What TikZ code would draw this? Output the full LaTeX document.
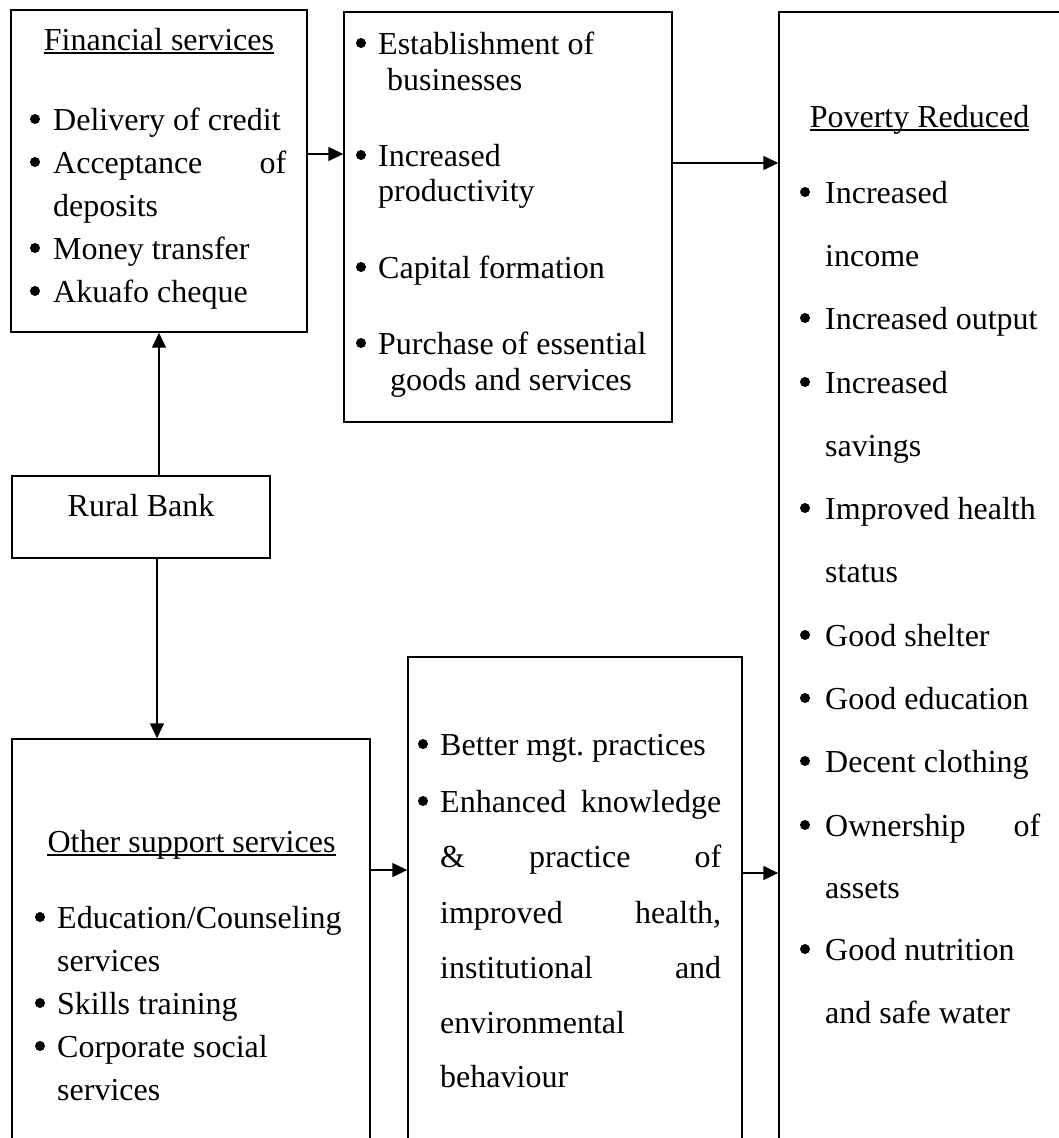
\documentclass[tikz,border=0pt]{standalone}
\usepackage{fontspec}
\setmainfont{Liberation Serif}
\usetikzlibrary{arrows.meta}
\newcommand\fs{\fontsize{32pt}{38pt}\selectfont\frenchspacing}
\tikzset{
  box/.style={draw, line width=1.4pt, inner sep=0pt},
  arr/.style={line width=1.4pt, -{Triangle[length=15pt,width=14pt]}},
  txt/.style={anchor=base west, inner sep=0pt, font=\fs},
  ttl/.style={anchor=base, inner sep=0pt, font=\fs},
  uline/.style={line width=1.4pt},
  bul/.style={fill=black}
}
\newcommand\bulat[2]{\fill[bul] (#1,#2-11) circle (5pt);}
\begin{document}
\begin{tikzpicture}[x=1pt,y=-1pt]
\useasboundingbox (0,0) rectangle (1059,1138);
\clip (0,0) rectangle (1059,1138);
% boxes
\node[box, minimum width=296pt, minimum height=322pt] (fin) at (159,171) {};
\node[box, minimum width=328pt, minimum height=410pt] (eff) at (508,217) {};
\node[box, minimum width=321pt, minimum height=1188pt] (pov) at (939.5,606) {};
\node[box, minimum width=258pt, minimum height=82pt] (bank) at (141,517) {};
\node[box, minimum width=358pt, minimum height=461pt] (oth) at (191,969.5) {};
\node[box, minimum width=334pt, minimum height=543pt] (beh) at (575,928.5) {};
% connectors
\draw[arr] (bank.north -| fin.south) -- (fin.south);
\draw[arr] (bank.south -| 157,0) -- (oth.north -| 157,0);
\draw[arr] (fin.east |- 0,154) -- (eff.west |- 0,154);
\draw[arr] (eff.east |- 0,163) -- (pov.west |- 0,163);
\draw[arr] (oth.east |- 0,870) -- (beh.west |- 0,870);
\draw[arr] (beh.east |- 0,873) -- (pov.west |- 0,873);
% Financial services
\node[ttl] (ft) at (159,50) {Financial services};
\draw[uline] ([yshift=-3pt]ft.base west) -- ([yshift=-3pt]ft.base east);
\node[txt] (f1) at (53,130) {Delivery of credit};
\node[txt] (f2) at (53,173) {\makebox[233pt][s]{Acceptance of}};
\node[txt] (f3) at (53,216) {deposits};
\node[txt] (f4) at (53,259) {Money transfer};
\node[txt] (f5) at (53,302) {Akuafo cheque};
\bulat{35}{130}\bulat{35}{173}\bulat{35}{259}\bulat{35}{302}
% effects
\node[txt] (e1) at (378,54) {Establishment of};
\node[txt] (e2) at (387,90) {businesses};
\node[txt] (e3) at (378,166) {Increased};
\node[txt] (e4) at (378,201) {productivity};
\node[txt] (e5) at (378,278) {Capital formation};
\node[txt] (e6) at (378,354) {Purchase of essential};
\node[txt] (e7) at (390,390) {goods and services};
\bulat{361}{54}\bulat{361}{166}\bulat{361}{278}\bulat{361}{354}
% Poverty reduced
\node[ttl] (pt) at (919.5,127) {Poverty Reduced};
\draw[uline] ([yshift=-3pt]pt.base west) -- ([yshift=-3pt]pt.base east);
\node[txt] (p1) at (825,203) {Increased};
\node[txt] (p2) at (825,266) {income};
\node[txt] (p3) at (825,329) {Increased output};
\node[txt] (p4) at (825,393) {Increased};
\node[txt] (p5) at (825,456) {savings};
\node[txt] (p6) at (825,519) {Improved health};
\node[txt] (p7) at (825,582) {status};
\node[txt] (p8) at (825,646) {Good shelter};
\node[txt] (p9) at (825,709) {Good education};
\node[txt] (p10) at (825,772) {Decent clothing};
\node[txt] (p11) at (825,836) {\makebox[215pt][s]{Ownership of}};
\node[txt] (p12) at (825,898) {assets};
\node[txt] (p13) at (825,960) {Good nutrition};
\node[txt] (p14) at (825,1023) {and safe water};
\bulat{805}{203}\bulat{805}{329}\bulat{805}{393}\bulat{805}{519}
\bulat{805}{646}\bulat{805}{709}\bulat{805}{772}\bulat{805}{836}\bulat{805}{960}
% Rural bank
\node[ttl] (bt) at (141,516) {Rural Bank};
% behaviour
\node[txt] (b1) at (440,755) {Better mgt. practices};
\node[txt] (b2) at (440,812) {\makebox[281pt][s]{Enhanced knowledge}};
\node[txt] (b3) at (440,867) {\makebox[281pt][s]{\& practice of}};
\node[txt] (b4) at (440,923) {\makebox[281pt][s]{improved health,}};
\node[txt] (b5) at (440,978) {\makebox[281pt][s]{institutional and}};
\node[txt] (b6) at (440,1033) {environmental};
\node[txt] (b7) at (440,1087) {behaviour};
\bulat{423}{755}\bulat{423}{812}
% Other support services
\node[ttl] (ot) at (191.5,852) {Other support services};
\draw[uline] ([yshift=-3pt]ot.base west) -- ([yshift=-3pt]ot.base east);
\node[txt] (o1) at (57,928) {Education/Counseling};
\node[txt] (o2) at (57,971) {services};
\node[txt] (o3) at (57,1014) {Skills training};
\node[txt] (o4) at (57,1057) {Corporate social};
\node[txt] (o5) at (57,1100) {services};
\bulat{40}{928}\bulat{40}{1014}\bulat{40}{1057}
\end{tikzpicture}
\end{document}
